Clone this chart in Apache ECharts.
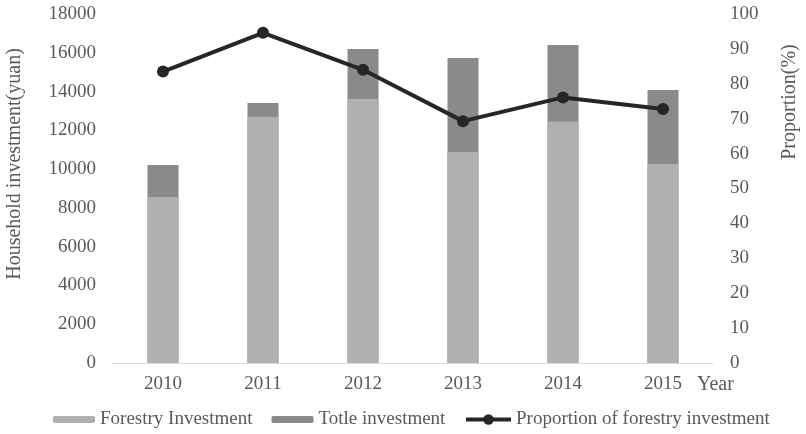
<!DOCTYPE html>
<html>
<head>
<meta charset="utf-8">
<script src="https://cdn.jsdelivr.net/npm/echarts@6/dist/echarts.min.js"></script>
<style>html,body{margin:0;padding:0;background:#fff;}#c{width:806px;height:434px;}</style>
</head>
<body>
<div id="c"></div>
<script>
const years = ['2010', '2011', '2012', '2013', '2014', '2015'];
const forestryInvestment = [8560, 12700, 13620, 10880, 12460, 10260];
const totalInvestment = [10210, 13410, 16200, 15730, 16400, 14080];
const proportion = [83.5, 94.6, 84.0, 69.3, 76.1, 72.8];
const leftTicks = { min: 0, max: 18000, interval: 2000 };
const rightTicks = { min: 0, max: 100, interval: 10 };

const FONT = 'Liberation Serif';
const TXT = '#595959';
const chart = echarts.init(document.getElementById('c'));
chart.setOption({
  animation: false,
  textStyle: { fontFamily: FONT, color: TXT },
  grid: { left: 113, right: 93, top: 14, bottom: 71, containLabel: false },
  legend: [
    {
      left: 53, top: 410, padding: 0, itemWidth: 42, itemHeight: 7, itemGap: 19,
      textStyle: { fontFamily: FONT, fontSize: 19, color: TXT },
      data: ['Forestry Investment', 'Totle investment']
    },
    {
      left: 464, top: 410, padding: 0, itemWidth: 45, itemHeight: 13, itemGap: 10,
      lineStyle: { width: 4 },
      textStyle: { fontFamily: FONT, fontSize: 19, color: TXT },
      data: ['Proportion of forestry investment']
    }
  ],
  xAxis: {
    type: 'category', data: years,
    axisLine: { lineStyle: { color: '#d9d9d9', width: 1 } },
    axisTick: { show: false },
    axisLabel: { fontFamily: FONT, fontSize: 19, color: TXT, margin: 12 }
  },
  yAxis: [
    {
      type: 'value', min: leftTicks.min, max: leftTicks.max, interval: leftTicks.interval,
      splitLine: { show: false }, axisLine: { show: false }, axisTick: { show: false },
      axisLabel: { fontFamily: FONT, fontSize: 19, color: TXT, margin: 17, formatter: v => String(v) }
    },
    {
      type: 'value', min: rightTicks.min, max: rightTicks.max, interval: rightTicks.interval,
      splitLine: { show: false }, axisLine: { show: false }, axisTick: { show: false },
      axisLabel: { fontFamily: FONT, fontSize: 19, color: TXT, margin: 17, formatter: v => String(v) }
    }
  ],
  graphic: [
    { type: 'text', left: 697, top: 375, style: { text: 'Year', font: '20px "Liberation Serif"', fill: TXT } },
    { type: 'text', x: 15, y: 164, rotation: Math.PI / 2,
      style: { text: 'Household investment(yuan)', font: '20px "Liberation Serif"', fill: TXT, align: 'center', verticalAlign: 'middle' } },
    { type: 'text', x: 790, y: 102, rotation: Math.PI / 2,
      style: { text: 'Proportion(%)', font: '20px "Liberation Serif"', fill: TXT, align: 'center', verticalAlign: 'middle' } }
  ],
  series: [
    {
      name: 'Totle investment', type: 'bar', data: totalInvestment, barWidth: 31, barGap: '-100%',
      itemStyle: { color: '#8a8a8a' }
    },
    {
      name: 'Forestry Investment', type: 'bar', data: forestryInvestment, barWidth: 31, barGap: '-100%',
      itemStyle: { color: '#b0b0b0' }
    },
    {
      name: 'Proportion of forestry investment', type: 'line', yAxisIndex: 1, data: proportion,
      symbol: 'circle', symbolSize: 12,
      lineStyle: { color: '#262626', width: 4 },
      itemStyle: { color: '#262626' }
    }
  ]
});
</script>
</body>
</html>
